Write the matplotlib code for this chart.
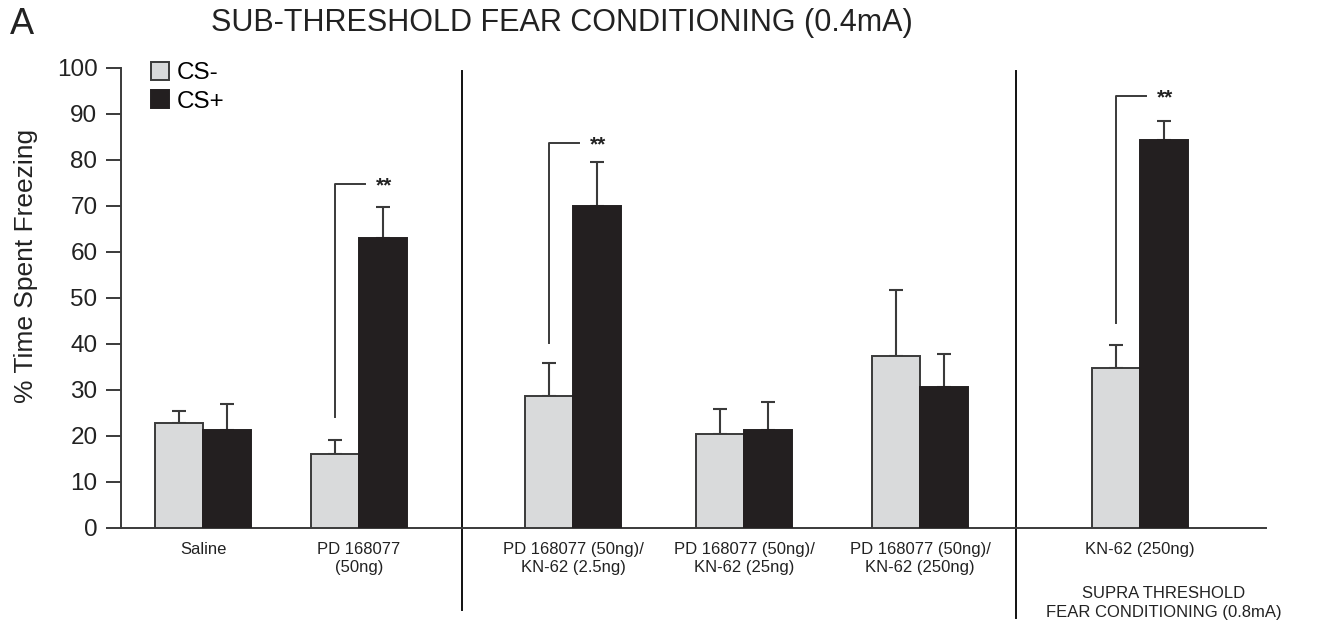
import matplotlib
matplotlib.use("Agg")
import matplotlib.pyplot as plt
from matplotlib.lines import Line2D
import numpy as np

plt.rcParams['font.family'] = ['Liberation Sans', 'DejaVu Sans']

# ---- data ----
groups = ["Saline", "PD 168077\n(50ng)", "PD 168077 (50ng)/\nKN-62 (2.5ng)",
          "PD 168077 (50ng)/\nKN-62 (25ng)", "PD 168077 (50ng)/\nKN-62 (250ng)",
          "KN-62 (250ng)"]
cs_minus = [22.8, 16.1, 28.7, 20.4, 37.4, 34.8]
cs_minus_err = [2.6, 3.0, 7.2, 5.5, 14.3, 5.0]
cs_plus = [21.3, 63.0, 70.0, 21.3, 30.7, 84.3]
cs_plus_err = [5.7, 6.8, 9.6, 6.1, 7.1, 4.2]
# significance brackets: group index, bottom y, top y
sig_groups = [1, 2, 5]
sig_bottom = [24.1, 40.2, 44.6]
sig_top = [74.8, 83.7, 93.9]
yticks = [0, 10, 20, 30, 40, 50, 60, 70, 80, 90, 100]

# ---- layout ----
group_pos = [0.82, 2.38, 4.52, 6.23, 7.99, 10.19]
separators = [3.41, 8.95]
sep_bottom = [-17.8, -19.6]
bar_w = 0.48

light = '#d9dadb'
dark = '#231f20'
edge = '#3a3a3a'

fig = plt.figure(figsize=(13.27, 6.26), dpi=100)
ax = fig.add_axes([121/1327, 1-528/626, (1266-121)/1327, (528-68)/626])

x = np.array(group_pos)
b1 = ax.bar(x - bar_w, cs_minus, width=bar_w, align='edge', color=light,
            edgecolor=edge, linewidth=1.4, label='CS-', zorder=3)
b2 = ax.bar(x, cs_plus, width=bar_w, align='edge', color=dark,
            edgecolor=dark, linewidth=1.4, label='CS+', zorder=3)
ax.errorbar(x - bar_w/2, cs_minus, yerr=[np.zeros(len(x)), cs_minus_err],
            fmt='none', ecolor=edge, elinewidth=1.5, capsize=4.7, capthick=1.5, zorder=2)
ax.errorbar(x + bar_w/2, cs_plus, yerr=[np.zeros(len(x)), cs_plus_err],
            fmt='none', ecolor=edge, elinewidth=1.5, capsize=4.7, capthick=1.5, zorder=2)

for g, yb, yt in zip(sig_groups, sig_bottom, sig_top):
    xc = group_pos[g] - bar_w/2
    ax.plot([xc, xc, xc + 0.30], [yb, yt, yt], color=edge, lw=1.4, zorder=4)
    ax.text(xc + 0.49, yt - 0.5, "**", ha='center', va='center', fontsize=15,
            fontweight='bold', color='#222222')

for s, sb in zip(separators, sep_bottom):
    ax.add_line(Line2D([s, s], [99.4, sb], color='#111111', lw=1.4, clip_on=False))

ax.set_xlim(0, 11.45)
ax.set_ylim(0, 100)
ax.set_yticks(yticks)
ax.set_yticklabels([str(t) for t in yticks], fontsize=17.5, color='#222222')
ax.set_xticks(group_pos)
ax.set_xticklabels(groups, fontsize=12, color='#222222', linespacing=1.3)
ax.tick_params(axis='x', length=0, pad=10)
ax.tick_params(axis='y', length=11, width=1.4, color=edge, pad=6)
for sp in ['top', 'right']:
    ax.spines[sp].set_visible(False)
for sp in ['left', 'bottom']:
    ax.spines[sp].set_color(edge)
    ax.spines[sp].set_linewidth(1.4)

ax.legend(handles=[b1, b2], labels=['CS-', 'CS+'], loc='upper left',
          bbox_to_anchor=(151/1327, 1-62/626), bbox_transform=fig.transFigure,
          frameon=False, fontsize=17.5, handlelength=0.72, handleheight=0.76,
          handletextpad=0.35, labelspacing=0.24, borderpad=0, borderaxespad=0)

fig.text(26/1327, 1-266/626, "% Time Spent Freezing", rotation=90, ha='center',
         va='center', fontsize=19, color='#222222')
fig.text(562/1327, 1-23/626, "SUB-THRESHOLD FEAR CONDITIONING (0.4mA)", ha='center',
         va='center', fontsize=22, color='#222222')
fig.text(10/1327, 1-24/626, "A", ha='left', va='center', fontsize=26, color='#222222')
fig.text(1164/1327, 1-603/626, "SUPRA THRESHOLD\nFEAR CONDITIONING (0.8mA)", ha='center',
         va='center', fontsize=12, color='#222222', linespacing=1.35)

fig.savefig("out.png", dpi=100)
